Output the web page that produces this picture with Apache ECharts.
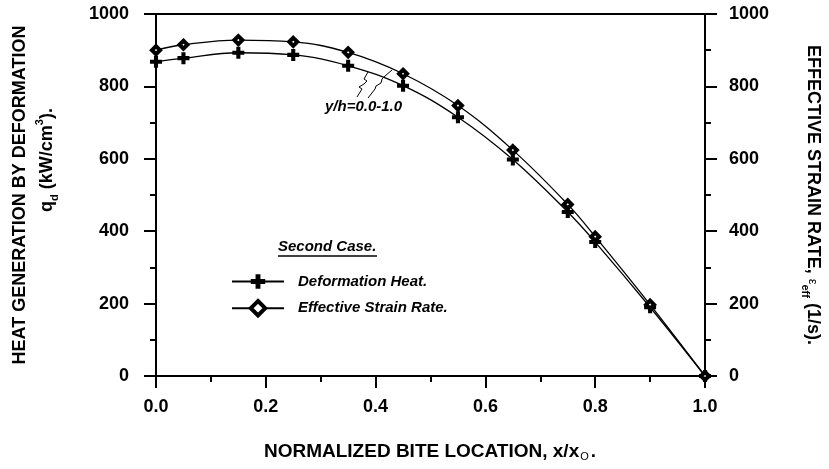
<!DOCTYPE html>
<html lang="en">
<head>
    <meta charset="UTF-8">
    <script src="https://cdn.jsdelivr.net/npm/echarts@6/dist/echarts.min.js"></script>
    <title>heat generation</title>
    <style>
        html, body { margin: 0; padding: 0; background: #fff; }
        #chart { width: 829px; height: 469px; }
    </style>
</head>
<body>
    <div id="chart"></div>
    <script>
        // x/xo positions and the two curves
        let xPos = [0, 0.05, 0.15, 0.25, 0.35, 0.45, 0.55, 0.65, 0.75, 0.8, 0.9, 1.0];
        let heatValues = [868, 878, 893, 887, 857, 802, 715, 598, 453, 370, 190, 0];
        let strainValues = [900, 915, 928, 923, 894, 835, 747, 624, 474, 385, 197, 0];
        let seriesNames = ['Deformation Heat.', 'Effective Strain Rate.'];

        let font = "'Liberation Sans', Arial, Helvetica, sans-serif";
        let plusPath = 'path://M3.3,0H6.7V3.3H10V6.7H6.7V10H3.3V6.7H0V3.3H3.3Z';

        function pairs(xs, ys) {
            let out = [];
            for (let i = 0; i < xs.length; i++) out.push([xs[i], ys[i]]);
            return out;
        }

        let tickStyle = { show: true, length: 12, lineStyle: { color: '#000', width: 2 } };
        let minorStyle = { show: true, splitNumber: 2, length: 6, lineStyle: { color: '#000', width: 2 } };
        let labelStyle = { color: '#000', fontSize: 18, fontWeight: 'bold', fontFamily: font };

        function yAxis(pos, margin) {
            return {
                type: 'value', position: pos, min: 0, max: 1000, interval: 200,
                axisLine: { show: true, lineStyle: { color: '#000', width: 2 } },
                axisTick: tickStyle,
                minorTick: minorStyle,
                splitLine: { show: false },
                axisLabel: Object.assign({
                    margin: margin,
                    formatter: function (v) { return String(v); }
                }, labelStyle)
            };
        }

        let option = {
            backgroundColor: '#fff',
            animation: false,
            grid: {
                left: 156, right: 124, top: 14, bottom: 93,
                show: true, borderColor: '#000', borderWidth: 2,
                outerBoundsMode: 'none'
            },
            legend: {
                orient: 'vertical',
                left: 226, top: 269,
                itemWidth: 52, itemHeight: 18, itemGap: 10,
                data: [
                    { name: seriesNames[0] },
                    { name: seriesNames[1], itemStyle: { borderWidth: 4 } }
                ],
                textStyle: {
                    color: '#000', fontSize: 15, fontWeight: 'bold', fontStyle: 'italic',
                    fontFamily: font, padding: [0, 0, 0, 9]
                }
            },
            xAxis: {
                type: 'value', min: 0, max: 1, interval: 0.2,
                axisLine: { show: true, lineStyle: { color: '#000', width: 2 } },
                axisTick: tickStyle,
                minorTick: minorStyle,
                splitLine: { show: false },
                axisLabel: Object.assign({
                    margin: 22,
                    formatter: function (v) { return v.toFixed(1); }
                }, labelStyle)
            },
            yAxis: [yAxis('left', 27), yAxis('right', 24)],
            series: [
                {
                    name: seriesNames[0], type: 'line', yAxisIndex: 0,
                    data: pairs(xPos, heatValues),
                    smooth: 0.4,
                    symbol: plusPath, symbolSize: 12,
                    lineStyle: { color: '#000', width: 1.3 },
                    itemStyle: { color: '#000' },
                    z: 3
                },
                {
                    name: seriesNames[1], type: 'line', yAxisIndex: 1,
                    data: pairs(xPos, strainValues),
                    smooth: 0.4,
                    symbol: 'diamond', symbolSize: 8,
                    lineStyle: { color: '#000', width: 1.3 },
                    itemStyle: { color: '#fff', borderColor: '#000', borderWidth: 4 },
                    z: 4
                }
            ],
            graphic: [
                {
                    type: 'text', x: 20, y: 195, rotation: Math.PI / 2,
                    style: {
                        text: 'HEAT GENERATION BY DEFORMATION', fill: '#000',
                        fontSize: 18, fontWeight: 'bold', fontFamily: font,
                        align: 'center', verticalAlign: 'middle'
                    }
                },
                {
                    type: 'text', x: 47, y: 160, rotation: Math.PI / 2,
                    style: {
                        text: '{a|q}{sub|d}{a| (kW/cm}{sup|3}{a|).}', fill: '#000',
                        align: 'center', verticalAlign: 'middle',
                        rich: {
                            a: { fontSize: 18, fontWeight: 'bold', fontFamily: font, lineHeight: 26 },
                            sub: { fontSize: 11, fontWeight: 'bold', fontFamily: font, verticalAlign: 'bottom' },
                            sup: { fontSize: 11, fontWeight: 'bold', fontFamily: font, verticalAlign: 'top' }
                        }
                    }
                },
                {
                    type: 'text', x: 813, y: 195, rotation: -Math.PI / 2,
                    style: {
                        text: '{a|EFFECTIVE STRAIN RATE, }{e|ε}{sub|eff}{a| (1/s).}', fill: '#000',
                        align: 'center', verticalAlign: 'middle',
                        rich: {
                            a: { fontSize: 18, fontWeight: 'bold', fontFamily: font, lineHeight: 26 },
                            e: { fontSize: 13, fontFamily: font },
                            sub: { fontSize: 11, fontWeight: 'bold', fontFamily: font, verticalAlign: 'bottom' }
                        }
                    }
                },
                {
                    type: 'text', x: 430, y: 452,
                    style: {
                        text: '{a|NORMALIZED BITE LOCATION, x/x}{sub|O}{a|.}', fill: '#000',
                        align: 'center', verticalAlign: 'middle',
                        rich: {
                            a: { fontSize: 19, fontWeight: 'bold', fontFamily: font, lineHeight: 24 },
                            sub: { fontSize: 11, fontFamily: font, verticalAlign: 'bottom', padding: [0, 2, 2, 1] }
                        }
                    }
                },
                {
                    type: 'text', x: 278, y: 247,
                    style: {
                        text: 'Second Case.', fill: '#000',
                        fontSize: 15, fontWeight: 'bold', fontStyle: 'italic', fontFamily: font,
                        align: 'left', verticalAlign: 'middle'
                    }
                },
                {
                    type: 'line', shape: { x1: 278, y1: 256, x2: 377, y2: 256 },
                    style: { stroke: '#000', lineWidth: 1.5 }
                },
                {
                    type: 'text', x: 325, y: 107,
                    style: {
                        text: 'y/h=0.0-1.0', fill: '#000',
                        fontSize: 15, fontWeight: 'bold', fontStyle: 'italic', fontFamily: font,
                        align: 'left', verticalAlign: 'middle'
                    }
                },
                {
                    type: 'polyline',
                    shape: { points: [[357, 97], [362, 89], [359, 87], [364, 84], [367, 81], [364, 79], [368, 72]] },
                    style: { stroke: '#000', lineWidth: 1, fill: null }
                },
                {
                    type: 'polyline',
                    shape: { points: [[368, 98], [375, 89], [376, 86], [381, 83], [382, 79], [385, 76], [392, 70]] },
                    style: { stroke: '#000', lineWidth: 1, fill: null }
                }
            ]
        };

        let chart = echarts.init(document.getElementById('chart'));
        chart.setOption(option);
    </script>
</body>
</html>
